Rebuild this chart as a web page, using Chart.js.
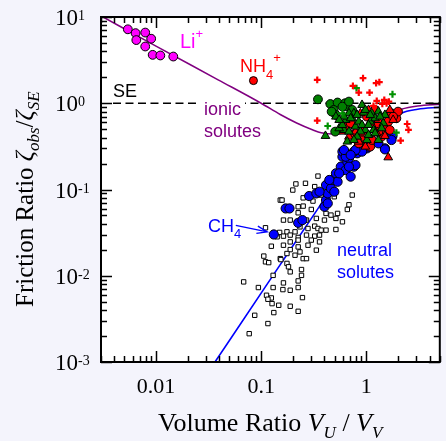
<!DOCTYPE html>
<html><head><meta charset="utf-8">
<script src="https://cdn.jsdelivr.net/npm/chart.js@4.4.1/dist/chart.umd.min.js"></script>
<style>html,body{margin:0;padding:0;background:#f4f4fc;}canvas{display:block}</style>
</head><body>
<canvas id="c" width="446" height="441"></canvas>
<script>
// ---- tick labels ----
const xTickVals = [0.01, 0.1, 1];
const xTickLabels = ['0.01', '0.1', '1'];
const yTickVals = [10, 1, 0.1, 0.01, 0.001];
const yTickExps = ['1', '0', '-1', '-2', '-3'];

// ---- data ----
const liX = [0.0054,0.0064,0.0065,0.0079,0.0079,0.0090,0.0093,0.0110,0.0146];
const liY = [7.2,6.5,5.4,6.6,4.55,5.6,3.64,3.58,3.48];
const nh4X = [0.0845];
const nh4Y = [1.83];

const sqX = [0.347,0.214,0.264,0.200,0.323,0.152,0.158,0.251,0.311,0.372,
  0.735,0.496,0.684,0.660,0.225,0.251,0.300,0.414,0.533,0.461,
  0.225,0.189,0.163,0.270,0.335,0.593,0.514,0.400,0.323,0.279,
  0.347,0.372,0.414,0.514,0.234,0.210,0.176,0.150,0.110,0.142,
  0.163,0.189,0.225,0.270,0.323,0.359,0.300,0.225,0.189,0.125,
  0.163,0.189,0.225,0.279,0.335,0.359,0.234,0.210,0.176,0.152,
  0.106,0.110,0.118,0.154,0.176,0.182,0.189,0.242,0.251,0.270,
  0.0682,0.0941,0.130,0.161,0.189,0.225,0.225,0.242,0.1125,0.125,
  0.116,0.127,0.147,0.247,0.189,0.225,0.132,0.0869,0.116,0.0770,
  0.163,0.130];
const sqY = [0.143,0.116,0.118,0.0985,0.108,0.0754,0.0754,0.080,0.0734,0.0862,
  0.0862,0.0824,0.0665,0.0587,0.0631,0.0642,0.0587,0.0528,0.0528,0.0505,
  0.0537,0.0442,0.0442,0.0442,0.0462,0.0422,0.0462,0.0442,0.0376,0.0353,
  0.0353,0.0338,0.0338,0.0344,0.0369,0.0323,0.0323,0.0318,0.0360,0.0283,
  0.0288,0.0296,0.0278,0.0296,0.0288,0.0296,0.0259,0.0259,0.0247,0.0220,
  0.0226,0.0201,0.0216,0.0226,0.0198,0.0247,0.0189,0.0173,0.0181,0.0158,
  0.0169,0.0145,0.0142,0.0154,0.0139,0.0127,0.0111,0.0118,0.0158,0.0158,
  0.00849,0.00730,0.00730,0.00691,0.00679,0.00730,0.00871,0.0101,0.00594,0.00553,
  0.00534,0.00475,0.00455,0.00558,0.00443,0.00387,0.00374,0.00348,0.00279,0.00213,
  0.00826,0.0101];

const blueX = [0.132,0.171,0.186,0.225,0.247,0.286,0.335,0.414,0.430,0.414,
  0.461,0.478,0.514,0.533,0.572,0.637,0.593,0.660,0.710,0.762,
  0.789,0.818,0.879,0.944,0.818,1.014,1.051,1.504,1.737,0.400,
  0.430,0.593,0.684,0.762,1.129,1.303,0.445,0.496,0.359,0.552,
  0.684,0.911,0.637,0.789,0.614,0.710,1.504,1.774,1.737];
const blueY = [0.0301,0.0603,0.0603,0.0411,0.0442,0.0839,0.0901,0.0754,0.0901,0.1126,
  0.103,0.129,0.154,0.123,0.184,0.168,0.240,0.210,0.141,0.184,
  0.192,0.263,0.287,0.314,0.300,0.300,0.314,0.300,0.410,0.0631,
  0.0690,0.275,0.230,0.275,0.359,0.343,0.129,0.0942,0.0942,0.154,
  0.184,0.275,0.240,0.287,0.287,0.251,0.292,0.418,0.375];

const redCircX = [1.932,1.737,2.003,1.616,1.400,1.090,0.911,0.762,1.257,0.911,1.014,1.504,0.637,0.848,1.213,1.799,0.710,1.129,1.674,1.303];
const redCircY = [0.669,0.765,0.800,0.612,0.410,0.314,0.375,0.429,0.560,0.469,0.700,0.490,0.526,0.343,0.837,0.700,0.586,0.375,0.490,0.469];
const redTriX = [1.616,0.848,0.979,1.504,1.257,0.684,0.789,1.303,1.799,1.129,0.879,0.593,1.051,1.674];
const redTriY = [0.236,0.359,0.314,0.4175,0.448,0.410,0.469,0.640,0.640,0.560,0.765,0.469,0.837,0.837];
const greenCircX = [0.347,0.455,0.533,0.628,0.660,0.489,0.514,0.506,0.593,0.468,0.735,0.684];
const greenCircY = [1.11,0.98,1.02,1.0,0.915,0.837,0.732,0.469,0.915,0.800,0.837,1.046];
const greenTriX = [0.409,0.514,0.637,0.735,0.614,0.911,0.944,1.129,1.303,1.452,
  0.789,0.979,1.171,0.660,1.014,1.303,0.848,0.684,0.552,1.090,
  1.504,0.762,0.879,1.213,0.684,0.818,1.051,0.614,
  0.593,0.710,0.818,0.979,1.090,1.351,1.213,0.911,0.762,1.051,0.552,1.400];
const greenTriY = [0.418,0.700,0.640,0.669,0.490,0.956,0.779,0.765,0.800,0.586,
  0.536,0.490,0.490,0.359,0.375,0.375,0.612,0.469,0.512,0.612,
  0.732,0.765,0.469,0.669,0.765,0.410,0.429,0.700,
  0.560,0.669,0.732,0.837,0.732,0.700,0.448,0.560,0.375,0.560,0.640,0.512];
const redPlusX = [0.3415,0.746,0.848,0.931,1.074,1.240,1.331,1.257,1.483,1.559,1.639,0.3415,2.448,2.518,2.121,1.171,1.420];
const redPlusY = [1.866,1.590,1.330,1.951,1.330,1.707,1.754,1.064,1.093,1.0,1.046,0.629,0.575,0.490,0.368,0.931,0.982];
const greenPlusX = [0.807,1.774,0.4295,1.932,0.593];
const greenPlusY = [1.494,1.272,0.545,0.456,0.765];

const ionicX = [0.003,0.01,0.039,0.1,0.152,0.2175,0.311,0.372,0.5,0.8,1.3,2.15,3.08,5.0];
const ionicY = [10.3,4.6,1.87,1.0,0.74,0.59,0.49,0.455,0.44,0.5,0.66,0.852,0.93,0.973];
const neutralX = [0.0364,0.121,0.347,0.79,1.2,2.15,3.08,5.0];
const neutralY = [0.001,0.0089,0.060,0.27,0.45,0.765,0.852,0.90];
const seX = [0.0039, 5];
const seY = [1, 1];
const arrowX = [0.0574, 0.1143];
const arrowY = [0.0383, 0.0323];

const pts = (xs, ys) => xs.map((x, i) => ({x, y: ys[i]}));

const SERIF = '"Liberation Serif", "Times New Roman", serif';
const SANS = '"Liberation Sans", Arial, sans-serif';

function rich(ctx, x, y, parts) {
  let cx = x;
  for (const p of parts) {
    ctx.font = p.f;
    ctx.fillText(p.t, cx, y + (p.dy || 0));
    cx += ctx.measureText(p.t).width + (p.gap || 0);
  }
  return cx;
}

const deco = {
  id: 'deco',
  beforeDraw(chart) {
    const {ctx, chartArea: a} = chart;
    ctx.save();
    ctx.fillStyle = '#f4f4fc';
    ctx.fillRect(0, 0, chart.width, chart.height);
    ctx.fillStyle = '#ffffff';
    ctx.fillRect(a.left, a.top, a.right - a.left, a.bottom - a.top);
    ctx.restore();
  },
  afterDatasetsDraw(chart) {
    const {ctx, chartArea: a, scales: {x, y}} = chart;
    ctx.save();
    // ticks
    ctx.strokeStyle = '#000';
    ctx.lineWidth = 1.5;
    ctx.beginPath();
    for (let e = -3; e <= 1; e++) {
      for (let m = 1; m <= 9; m++) {
        const v = m * Math.pow(10, e);
        const len = m === 1 ? 11 : 6;
        if (v >= x.min * 0.999 && v <= x.max * 1.001) {
          const px = Math.round(x.getPixelForValue(v)) + 0.5;
          ctx.moveTo(px, a.bottom); ctx.lineTo(px, a.bottom - len);
          ctx.moveTo(px, a.top); ctx.lineTo(px, a.top + len);
        }
        if (v >= y.min * 0.999 && v <= y.max * 1.001) {
          const py = Math.round(y.getPixelForValue(v)) + 0.5;
          ctx.moveTo(a.left, py); ctx.lineTo(a.left + len, py);
          ctx.moveTo(a.right, py); ctx.lineTo(a.right - len, py);
        }
      }
    }
    ctx.stroke();
    // frame
    ctx.lineWidth = 2;
    ctx.strokeRect(a.left, a.top, a.right - a.left, a.bottom - a.top);

    // x tick labels
    ctx.fillStyle = '#000';
    ctx.textAlign = 'center';
    ctx.textBaseline = 'alphabetic';
    ctx.font = '22px ' + SERIF;
    xTickVals.forEach((v, i) => ctx.fillText(xTickLabels[i], x.getPixelForValue(v), 393));
    // y tick labels
    ctx.textAlign = 'left';
    yTickVals.forEach((v, i) => {
      const py = y.getPixelForValue(v);
      rich(ctx, 55, py + 8, [
        {t: '10', f: '23px ' + SERIF},
        {t: yTickExps[i], f: '14px ' + SERIF, dy: -5}
      ]);
    });

    // axis titles
    rich(ctx, 158, 431, [
      {t: 'Volume Ratio ', f: '26px ' + SERIF},
      {t: 'V', f: 'italic 26px ' + SERIF},
      {t: 'U', f: 'italic 17px ' + SERIF, dy: 7},
      {t: ' / ', f: '26px ' + SERIF},
      {t: 'V', f: 'italic 26px ' + SERIF},
      {t: 'V', f: 'italic 17px ' + SERIF, dy: 7}
    ]);
    ctx.save();
    ctx.translate(33, 307);
    ctx.rotate(-Math.PI / 2);
    rich(ctx, 0, 0, [
      {t: 'Friction Ratio ', f: '25px ' + SERIF},
      {t: 'ζ', f: 'italic 25px ' + SERIF},
      {t: 'obs', f: 'italic 17px ' + SERIF, dy: 6},
      {t: '/', f: '25px ' + SERIF},
      {t: 'ζ', f: 'italic 25px ' + SERIF},
      {t: 'SE', f: 'italic 17px ' + SERIF, dy: 6}
    ]);
    ctx.restore();

    // annotations
    ctx.fillStyle = '#ff00ff';
    rich(ctx, 180, 48, [
      {t: 'Li', f: '20px ' + SANS},
      {t: '+', f: '13px ' + SANS, dy: -10}
    ]);
    ctx.fillStyle = '#ff0000';
    rich(ctx, 240, 72, [
      {t: 'NH', f: '18px ' + SANS},
      {t: '4', f: '13px ' + SANS, dy: 7},
      {t: '+', f: '13px ' + SANS, dy: -10}
    ]);
    ctx.fillStyle = '#000';
    ctx.font = '18px ' + SANS;
    ctx.fillText('SE', 113, 97);
    const wIonic = ctx.measureText('ionic').width;
    ctx.fillStyle = '#ffffff';
    ctx.fillRect(200, 100, wIonic + 8, 6);
    ctx.fillStyle = '#800080';
    ctx.fillText('ionic', 204, 115);
    ctx.fillText('solutes', 204, 137);
    ctx.fillStyle = '#0000ff';
    ctx.fillText('neutral', 337, 256);
    ctx.fillText('solutes', 337, 278);
    rich(ctx, 208, 232, [
      {t: 'CH', f: '18px ' + SANS},
      {t: '4', f: '13px ' + SANS, dy: 6}
    ]);
    // arrow
    const x0 = x.getPixelForValue(arrowX[0]), y0 = y.getPixelForValue(arrowY[0]);
    const x1 = x.getPixelForValue(arrowX[1]), y1 = y.getPixelForValue(arrowY[1]);
    const ang = Math.atan2(y1 - y0, x1 - x0);
    ctx.strokeStyle = '#0000ff';
    ctx.lineWidth = 1.3;
    ctx.beginPath();
    ctx.moveTo(x0, y0); ctx.lineTo(x1, y1);
    ctx.moveTo(x1 - 11 * Math.cos(ang - 0.35), y1 - 11 * Math.sin(ang - 0.35));
    ctx.lineTo(x1, y1);
    ctx.lineTo(x1 - 11 * Math.cos(ang + 0.35), y1 - 11 * Math.sin(ang + 0.35));
    ctx.stroke();
    ctx.restore();
  }
};

const mk = (data, style, fill, r, extra) => Object.assign({
  data, showLine: false, pointStyle: style, pointRadius: r,
  backgroundColor: fill, borderColor: '#000', borderWidth: 1
}, extra || {});

new Chart(document.getElementById('c'), {
  type: 'scatter',
  data: {
    datasets: [
      mk(pts(redPlusX, redPlusY), 'cross', '#ff0000', 3.4, {borderColor: '#ff0000', borderWidth: 2.2}),
      mk(pts(greenPlusX, greenPlusY), 'cross', '#009000', 3.4, {borderColor: '#009000', borderWidth: 2.2}),
      mk(pts(greenTriX, greenTriY), 'triangle', '#008000', 5),
      mk(pts(greenCircX, greenCircY), 'circle', '#008000', 4.4),
      mk(pts(redTriX, redTriY), 'triangle', '#ff0000', 5),
      mk(pts(redCircX, redCircY), 'circle', '#ff0000', 4.4),
      mk(pts(nh4X, nh4Y), 'circle', '#ff0000', 4),
      mk(pts(blueX, blueY), 'circle', '#0000ff', 4.6),
      mk(pts(liX, liY), 'circle', '#ff00ff', 4.4),
      mk(pts(sqX, sqY), 'rect', '#ffffff', 3.1),
      {data: pts(seX, seY), showLine: true, pointRadius: 0, borderColor: '#000', borderWidth: 1.3, borderDash: [8, 4.5]},
      {data: pts(ionicX, ionicY), showLine: true, pointRadius: 0, borderColor: '#800080', borderWidth: 1.5, cubicInterpolationMode: 'monotone'},
      {data: pts(neutralX, neutralY), showLine: true, pointRadius: 0, borderColor: '#0000ff', borderWidth: 1.6, cubicInterpolationMode: 'monotone'}
    ]
  },
  options: {
    responsive: false,
    devicePixelRatio: 1,
    animation: false,
    events: [],
    layout: {padding: {left: 101, right: 1, top: 17, bottom: 79}},
    plugins: {legend: {display: false}, tooltip: {enabled: false}},
    scales: {
      x: {type: 'logarithmic', min: 0.003, max: 5, display: false},
      y: {type: 'logarithmic', min: 0.001, max: 10, display: false}
    }
  },
  plugins: [deco]
});
</script>
</body></html>
